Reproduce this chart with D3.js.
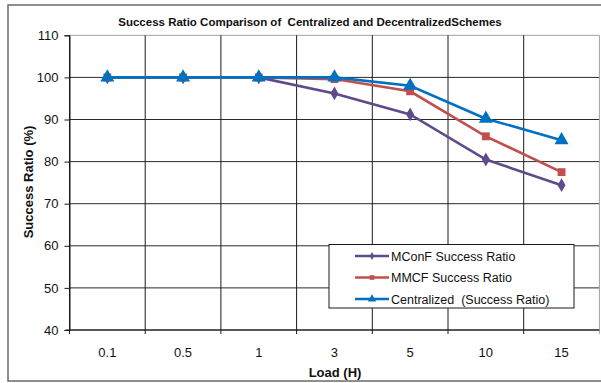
<!DOCTYPE html>
<html>
<head>
<meta charset="utf-8">
<script src="https://cdn.jsdelivr.net/npm/d3@7"></script>
<style>
  body { margin: 0; background: #fff; }
  svg { display: block; font-family: "Liberation Sans", Arial, sans-serif; }
</style>
</head>
<body>
<svg id="chart" width="601" height="383"></svg>
<script>
// data
const loads = ["0.1", "0.5", "1", "3", "5", "10", "15"];
const mconf = [100, 100, 100, 96.2, 91.2, 80.5, 74.4];
const mmcf = [100, 100, 100, 99.6, 96.7, 86.0, 77.5];
const centralized = [100, 100, 100, 100, 98.0, 90.2, 85.1];
const yTicks = [40, 50, 60, 70, 80, 90, 100, 110];

const series = [
    { name: "MConF Success Ratio", values: mconf, color: "#5F4B8B", shape: d3.symbolDiamond, size: 55 },
    { name: "MMCF Success Ratio", values: mmcf, color: "#C0504D", shape: d3.symbolSquare, size: 62 },
    { name: "Centralized  (Success Ratio)", values: centralized, color: "#0070C0", shape: d3.symbolTriangle, size: 85 }
];

const svg = d3.select("#chart");
const plotLeft = 69.5, plotRight = 599.4, plotTop = 35.3, plotBottom = 330;

// outer frame
svg.append("rect")
    .attr("x", 8).attr("y", 5)
    .attr("width", 620).attr("height", 376)
    .attr("fill", "none")
    .attr("stroke", "#6a6a6a")
    .attr("stroke-width", 1.5);

const x = d3.scaleBand().domain(loads).range([plotLeft, plotRight]);
const y = d3.scaleLinear().domain([40, 110]).range([plotBottom, plotTop]);

// horizontal grid
svg.append("g").selectAll("line")
    .data(yTicks)
    .enter().append("line")
    .attr("x1", plotLeft).attr("x2", plotRight)
    .attr("y1", d => y(d)).attr("y2", d => y(d))
    .attr("stroke", d => d === 110 ? "#a0a0a0" : "#2a2a2a")
    .attr("stroke-width", 1);

// vertical grid at category boundaries
const bounds = loads.map(d => x(d)).concat([plotRight]);
svg.append("g").selectAll("line")
    .data(bounds)
    .enter().append("line")
    .attr("x1", d => d).attr("x2", d => d)
    .attr("y1", plotTop).attr("y2", plotBottom + 4)
    .attr("stroke", (d, i) => i === bounds.length - 1 ? "#a0a0a0" : "#1a1a1a")
    .attr("stroke-width", 1);

// y axis
const yAxis = svg.append("g")
    .attr("transform", `translate(${plotLeft},0)`)
    .call(d3.axisLeft(y).tickValues(yTicks).tickSize(5).tickPadding(6));
yAxis.select(".domain").attr("stroke", "#1a1a1a");
yAxis.selectAll(".tick line").attr("stroke", "#1a1a1a");
yAxis.selectAll("text").attr("font-size", 13).attr("fill", "#111")
    .attr("font-family", "Liberation Sans, Arial, sans-serif");

// x axis line
svg.append("line")
    .attr("x1", plotLeft - 4).attr("x2", plotRight)
    .attr("y1", plotBottom).attr("y2", plotBottom)
    .attr("stroke", "#1a1a1a");

svg.append("g").selectAll("text")
    .data(loads)
    .enter().append("text")
    .attr("x", d => x(d) + x.bandwidth() / 2)
    .attr("y", 357)
    .attr("text-anchor", "middle")
    .attr("font-size", 13)
    .attr("fill", "#111")
    .text(d => d);

// lines + markers
const line = d3.line()
    .x((d, i) => x(loads[i]) + x.bandwidth() / 2)
    .y(d => y(d));

series.forEach(s => {
    svg.append("path")
        .datum(s.values)
        .attr("fill", "none")
        .attr("stroke", s.color)
        .attr("stroke-width", 2.6)
        .attr("d", line);
    svg.append("g").selectAll("path")
        .data(s.values)
        .enter().append("path")
        .attr("transform", (d, i) => `translate(${x(loads[i]) + x.bandwidth() / 2},${y(d)})`)
        .attr("d", d3.symbol().type(s.shape).size(s.size))
        .attr("fill", s.color);
});

// titles
svg.append("text")
    .attr("x", 310).attr("y", 26)
    .attr("text-anchor", "middle")
    .attr("font-size", 11.5)
    .attr("font-weight", "bold")
    .attr("fill", "#111")
    .attr("xml:space", "preserve")
    .text("Success Ratio Comparison of  Centralized and DecentralizedSchemes");

svg.append("text")
    .attr("x", 335).attr("y", 377)
    .attr("text-anchor", "middle")
    .attr("font-size", 13)
    .attr("font-weight", "bold")
    .attr("fill", "#111")
    .text("Load (H)");

svg.append("text")
    .attr("transform", "translate(33,182) rotate(-90)")
    .attr("text-anchor", "middle")
    .attr("font-size", 13)
    .attr("font-weight", "bold")
    .attr("fill", "#111")
    .text("Success Ratio (%)");

// legend
const legend = svg.append("g");
legend.append("rect")
    .attr("x", 329).attr("y", 244.5)
    .attr("width", 245).attr("height", 63.5)
    .attr("fill", "#fff")
    .attr("stroke", "#1a1a1a");

const legendY = [256, 277.5, 299];
series.forEach((s, i) => {
    legend.append("line")
        .attr("x1", 355).attr("x2", 389)
        .attr("y1", legendY[i]).attr("y2", legendY[i])
        .attr("stroke", s.color).attr("stroke-width", 2.6);
    legend.append("path")
        .attr("transform", `translate(372,${legendY[i]})`)
        .attr("d", d3.symbol().type(s.shape).size(s.size * 0.35))
        .attr("fill", s.color);
    legend.append("text")
        .attr("x", 391).attr("y", legendY[i] + 4.5)
        .attr("font-size", 12.5)
        .attr("fill", "#111")
        .attr("xml:space", "preserve")
        .text(s.name);
});
</script>
</body>
</html>
